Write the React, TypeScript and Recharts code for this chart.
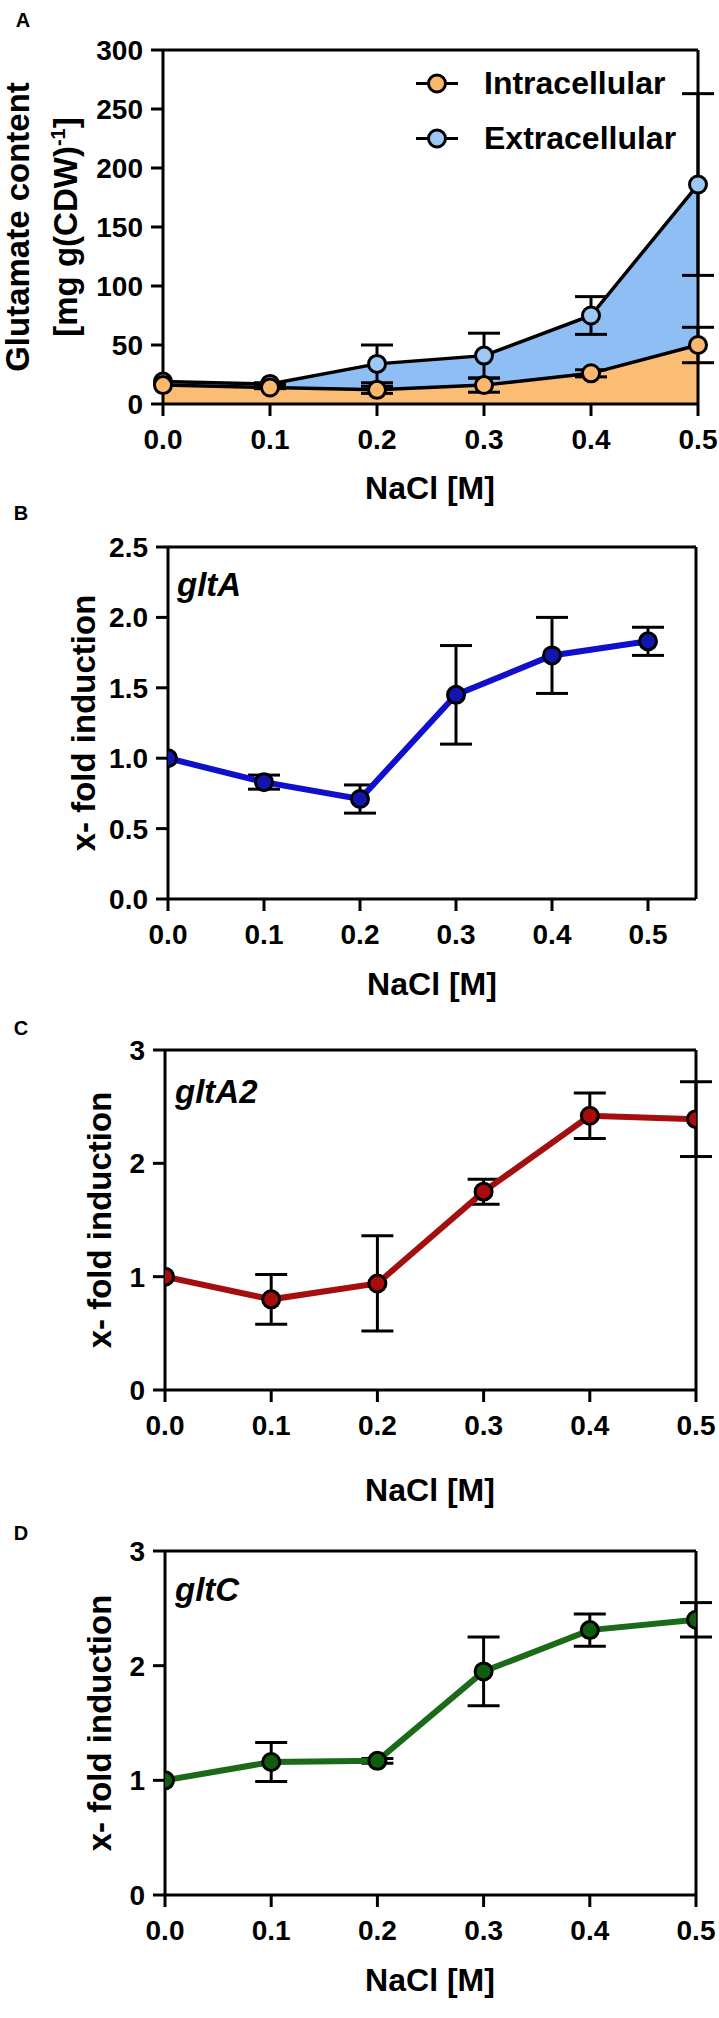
import React from 'react'
import {
  ComposedChart,
  LineChart,
  Line,
  Area,
  XAxis,
  YAxis,
  ErrorBar,
  ReferenceLine
} from 'recharts'

// NaCl concentrations [M]
const nacl = [0, 0.1, 0.2, 0.3, 0.4, 0.5]
const naclTicks = [0, 0.1, 0.2, 0.3, 0.4, 0.5]

// panel A, glutamate content
const intracellular = [16, 14, 12, 16, 26, 50]
const intracellularErr = [0, 1, 3, 6, 3, 15]
const extracellular = [19, 17, 34, 41, 75, 186]
const extracellularErr = [0, 1, 16, 19, 16, 77]
const glutamateTicks = [0, 50, 100, 150, 200, 250, 300]

// panels B-D, x-fold induction
const gltA = [1.0, 0.83, 0.71, 1.45, 1.73, 1.83]
const gltAErr = [0, 0.05, 0.1, 0.35, 0.27, 0.1]
const gltA2 = [1.0, 0.8, 0.94, 1.75, 2.42, 2.39]
const gltA2Err = [0, 0.22, 0.42, 0.11, 0.2, 0.33]
const gltC = [1.0, 1.16, 1.17, 1.95, 2.31, 2.4]
const gltCErr = [0, 0.17, 0.02, 0.3, 0.14, 0.15]
const gltATicks = [0, 0.5, 1, 1.5, 2, 2.5]
const foldTicks = [0, 1, 2, 3]

const SANS = '"Liberation Sans", Arial, sans-serif'

const tickStyle = { fontFamily: SANS, fontSize: 28, fontWeight: 700, fill: '#000' }
const axisLine = { stroke: '#000', strokeWidth: 3 }

const glutamateData = nacl.map((x, i) => ({
  x,
  intra: intracellular[i],
  intraErr: intracellularErr[i],
  extra: extracellular[i],
  extraErr: extracellularErr[i]
}))

const foldData = (vals: number[], errs: number[]) =>
  nacl.map((x, i) => ({ x, y: vals[i], err: errs[i] }))

const abs = (left: number, top: number): React.CSSProperties => ({
  position: 'absolute',
  left,
  top
})

const PanelLetter = ({ text, x, y }: { text: string; x: number; y: number }) => (
  <div
    style={{
      ...abs(x, y),
      transform: 'translate(-50%, -50%)',
      fontFamily: SANS,
      fontWeight: 700,
      fontSize: 20
    }}
  >
    {text}
  </div>
)

const XTitle = ({ x, y }: { x: number; y: number }) => (
  <div
    style={{
      ...abs(x, y),
      transform: 'translate(-50%, -50%)',
      fontFamily: SANS,
      fontWeight: 700,
      fontSize: 32,
      whiteSpace: 'nowrap'
    }}
  >
    NaCl [M]
  </div>
)

const YTitle = ({ x, y, children }: { x: number; y: number; children: React.ReactNode }) => (
  <div
    style={{
      ...abs(x, y),
      transform: 'translate(-50%, -50%) rotate(-90deg)',
      fontFamily: SANS,
      fontWeight: 700,
      fontSize: 33,
      whiteSpace: 'nowrap',
      lineHeight: '48px',
      textAlign: 'center'
    }}
  >
    {children}
  </div>
)

const GeneLabel = ({ text, x, y }: { text: string; x: number; y: number }) => (
  <div
    style={{
      ...abs(x, y),
      transform: 'translateY(-50%)',
      fontFamily: SANS,
      fontWeight: 700,
      fontStyle: 'italic',
      fontSize: 33
    }}
  >
    {text}
  </div>
)

const LegendRow = ({ fill, text, y }: { fill: string; text: string; y: number }) => (
  <div style={{ ...abs(414, y), transform: 'translateY(-50%)', display: 'flex', alignItems: 'center' }}>
    <svg width={46} height={24}>
      <line x1={2} y1={12} x2={44} y2={12} stroke="#000" strokeWidth={3} />
      <circle cx={23} cy={12} r={8.5} fill={fill} stroke="#000" strokeWidth={3} />
    </svg>
    <span style={{ marginLeft: 24, fontFamily: SANS, fontWeight: 700, fontSize: 32 }}>{text}</span>
  </div>
)

const dot = (fill: string) => ({ r: 8.5, fill, stroke: '#000', strokeWidth: 3 })

interface FoldPanelProps {
  top: number
  data: { x: number; y: number; err: number }[]
  color: string
  dotFill: string
  xMax: number
  yMax: number
  yTicks: number[]
  yFmt: (v: number) => string
  left: number
  right: number
  plotTop: number
  plotBottom: number
}

const FoldPanel = ({ top, data, color, dotFill, xMax, yMax, yTicks, yFmt, left, right, plotTop, plotBottom }: FoldPanelProps) => {
  const height = plotBottom - top + 60
  return (
    <div style={abs(0, top)}>
      <LineChart
        width={719}
        height={height}
        data={data}
        margin={{ top: plotTop - top, right: 719 - right, bottom: 10, left: left - 100 }}
      >
        <XAxis
          dataKey="x"
          type="number"
          domain={[0, xMax]}
          ticks={naclTicks}
          tickFormatter={(v: number) => v.toFixed(1)}
          tick={tickStyle}
          tickSize={12}
          tickMargin={13}
          axisLine={axisLine}
          tickLine={axisLine}
          height={50}
          allowDataOverflow
        />
        <YAxis
          type="number"
          domain={[0, yMax]}
          ticks={yTicks}
          tickFormatter={yFmt}
          tick={tickStyle}
          tickSize={12}
          tickMargin={8}
          axisLine={axisLine}
          tickLine={axisLine}
          width={100}
          allowDataOverflow
        />
        <ReferenceLine y={yMax} stroke="#000" strokeWidth={3} />
        <ReferenceLine x={xMax} stroke="#000" strokeWidth={3} />
        <Line
          dataKey="y"
          stroke={color}
          strokeWidth={6}
          dot={dot(dotFill)}
          activeDot={false}
          isAnimationActive={false}
        >
          <ErrorBar dataKey="err" direction="y" width={16} stroke="#000" strokeWidth={3} />
        </Line>
      </LineChart>
    </div>
  )
}

export default function App() {
  return (
    <div style={{ position: 'absolute', left: 0, top: 0, width: 719, height: 2018, background: '#fff' }}>
      {/* Panel A */}
      <div style={abs(0, 0)}>
        <ComposedChart
          width={719}
          height={470}
          data={glutamateData}
          margin={{ top: 50, right: 21, bottom: 16, left: 63 }}
        >
          <XAxis
            dataKey="x"
            type="number"
            domain={[0, 0.5]}
            ticks={naclTicks}
            tickFormatter={(v: number) => v.toFixed(1)}
            tick={tickStyle}
            tickSize={12}
            tickMargin={13}
            axisLine={axisLine}
            tickLine={axisLine}
            height={50}
          />
          <YAxis
            type="number"
            domain={[0, 300]}
            ticks={glutamateTicks}
            tick={tickStyle}
            tickSize={12}
            tickMargin={8}
            axisLine={axisLine}
            tickLine={axisLine}
            width={100}
          />
          <ReferenceLine y={300} stroke="#000" strokeWidth={3} />
          <ReferenceLine x={0.5} stroke="#000" strokeWidth={3} />
          <Area
            dataKey="extra"
            type="linear"
            stroke="#000"
            strokeWidth={3.5}
            fill="#8fbef5"
            fillOpacity={1}
            dot={false}
            activeDot={false}
            isAnimationActive={false}
          />
          <Area
            dataKey="intra"
            type="linear"
            stroke="#000"
            strokeWidth={3.5}
            fill="#fbbc74"
            fillOpacity={1}
            dot={false}
            activeDot={false}
            isAnimationActive={false}
          />
          <Line
            dataKey="extra"
            stroke="none"
            dot={dot('#9ec8f4')}
            activeDot={false}
            isAnimationActive={false}
          >
            <ErrorBar dataKey="extraErr" direction="y" width={16} stroke="#000" strokeWidth={3} />
          </Line>
          <Line
            dataKey="intra"
            stroke="none"
            dot={dot('#fbb86c')}
            activeDot={false}
            isAnimationActive={false}
          >
            <ErrorBar dataKey="intraErr" direction="y" width={16} stroke="#000" strokeWidth={3} />
          </Line>
        </ComposedChart>
      </div>
      <PanelLetter text="A" x={23} y={20} />
      <YTitle x={42} y={227}>
        Glutamate content
        <br />
        [mg g(CDW)<sup style={{ fontSize: 20, lineHeight: 0 }}>-1</sup>]
      </YTitle>
      <XTitle x={430} y={488} />
      <LegendRow fill="#fbb86c" text="Intracellular" y={83} />
      <LegendRow fill="#9ec8f4" text="Extracellular" y={138} />

      {/* Panel B */}
      <FoldPanel
        top={500}
        data={foldData(gltA, gltAErr)}
        color="#1010cc"
        dotFill="#1414b0"
        xMax={0.55}
        yMax={2.5}
        yTicks={gltATicks}
        yFmt={(v) => v.toFixed(1)}
        left={168}
        right={696}
        plotTop={547}
        plotBottom={899}
      />
      <PanelLetter text="B" x={21} y={513} />
      <YTitle x={84} y={723}>x- fold induction</YTitle>
      <GeneLabel text="gltA" x={177} y={585} />
      <XTitle x={432} y={984} />

      {/* Panel C */}
      <FoldPanel
        top={1010}
        data={foldData(gltA2, gltA2Err)}
        color="#a50e0e"
        dotFill="#a80c0c"
        xMax={0.5}
        yMax={3}
        yTicks={foldTicks}
        yFmt={(v) => String(v)}
        left={165}
        right={696}
        plotTop={1050}
        plotBottom={1390}
      />
      <PanelLetter text="C" x={21} y={1028} />
      <YTitle x={100} y={1220}>x- fold induction</YTitle>
      <GeneLabel text="gltA2" x={175} y={1092} />
      <XTitle x={430} y={1490} />

      {/* Panel D */}
      <FoldPanel
        top={1515}
        data={foldData(gltC, gltCErr)}
        color="#1a6a1a"
        dotFill="#0f5e0f"
        xMax={0.5}
        yMax={3}
        yTicks={foldTicks}
        yFmt={(v) => String(v)}
        left={165}
        right={696}
        plotTop={1551}
        plotBottom={1895}
      />
      <PanelLetter text="D" x={21} y={1533} />
      <YTitle x={100} y={1723}>x- fold induction</YTitle>
      <GeneLabel text="gltC" x={175} y={1590} />
      <XTitle x={430} y={1980} />
    </div>
  )
}
